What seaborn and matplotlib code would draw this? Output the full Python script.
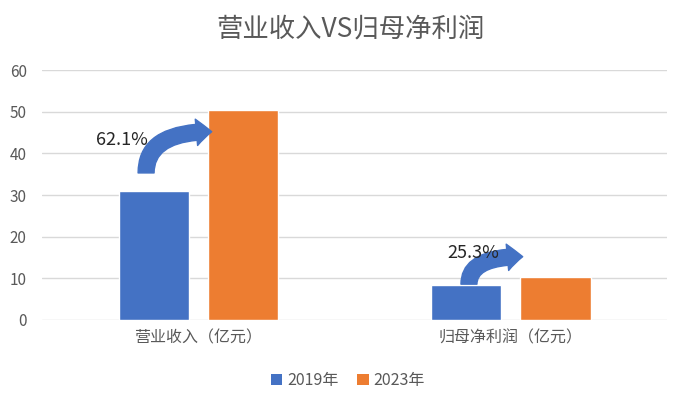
import matplotlib
matplotlib.use("Agg")
import matplotlib.pyplot as plt
from matplotlib.patches import FancyArrowPatch, Patch
import seaborn as sns
import pandas as pd

# ---- data ----
categories = ["营业收入（亿元）", "归母净利润（亿元）"]
years = ["2019年", "2023年"]
values_2019 = [31.0, 8.3]
values_2023 = [50.3, 10.4]
growth_labels = ["62.1%", "25.3%"]
y_ticks = [0, 10, 20, 30, 40, 50, 60]
title = "营业收入VS归母净利润"

# annotation placement (offset from category centre, data y): arrow tail, arrow head, label
arrow_tails = [(-0.167, 35.3), (-0.134, 8.6)]
arrow_heads = [(0.043, 45.2), (0.038, 15.2)]
label_pos = [(-0.244, 43.2), (-0.121, 16.2)]

colors = ["#4472C4", "#ED7D31"]
gray = "#595959"

df = pd.DataFrame({
    "category": categories * 2,
    "year": [years[0]] * len(categories) + [years[1]] * len(categories),
    "value": values_2019 + values_2023,
})

sns.set_style("white")
plt.rcParams["font.family"] = ["Noto Sans CJK SC", "DejaVu Sans"]

fig = plt.figure(figsize=(7.0, 3.98), dpi=100)
ax = fig.add_axes([0.06, 0.196, 0.893, 0.628])

sns.barplot(data=df, x="category", y="value", hue="year", palette=colors,
            width=0.57, gap=0.21, ax=ax, legend=False, saturation=1)

ax.set_ylim(0, 60)
ax.set_xlim(-0.5, 1.5)
ax.set_yticks(y_ticks)
ax.set_yticklabels([str(t) for t in y_ticks])
ax.yaxis.grid(True, color="#d9d9d9", linewidth=1.0)
ax.set_axisbelow(True)
for s in ax.spines.values():
    s.set_visible(False)
ax.tick_params(axis="both", length=0, colors=gray)
ax.tick_params(axis="y", labelsize=11, pad=11)
ax.tick_params(axis="x", labelsize=11.5, pad=7)
ax.set_xlabel("")
ax.set_ylabel("")

for i, (tail, head, lab, lp) in enumerate(zip(arrow_tails, arrow_heads, growth_labels, label_pos)):
    arr = FancyArrowPatch((i + tail[0], tail[1]), (i + head[0], head[1]),
                          connectionstyle="angle3,angleA=90,angleB=0",
                          arrowstyle="simple,head_length=11,head_width=19,tail_width=11.5",
                          mutation_scale=1, shrinkA=0, shrinkB=0,
                          color=colors[0], zorder=3)
    ax.add_patch(arr)
    ax.text(i + lp[0], lp[1], lab, ha="center", va="center", fontsize=13,
            color="#262626", zorder=5)

fig.text(0.5, 0.928, title, ha="center", va="center", fontsize=19, color=gray)

handles = [Patch(facecolor=c, edgecolor="none") for c in colors]
fig.legend(handles, years, loc="center", bbox_to_anchor=(0.497, 0.043), ncol=2,
           frameon=False, fontsize=11.5, labelcolor=gray, handlelength=0.7,
           handleheight=0.7, handletextpad=0.3, columnspacing=1.2)

fig.savefig("out.png", dpi=100)
